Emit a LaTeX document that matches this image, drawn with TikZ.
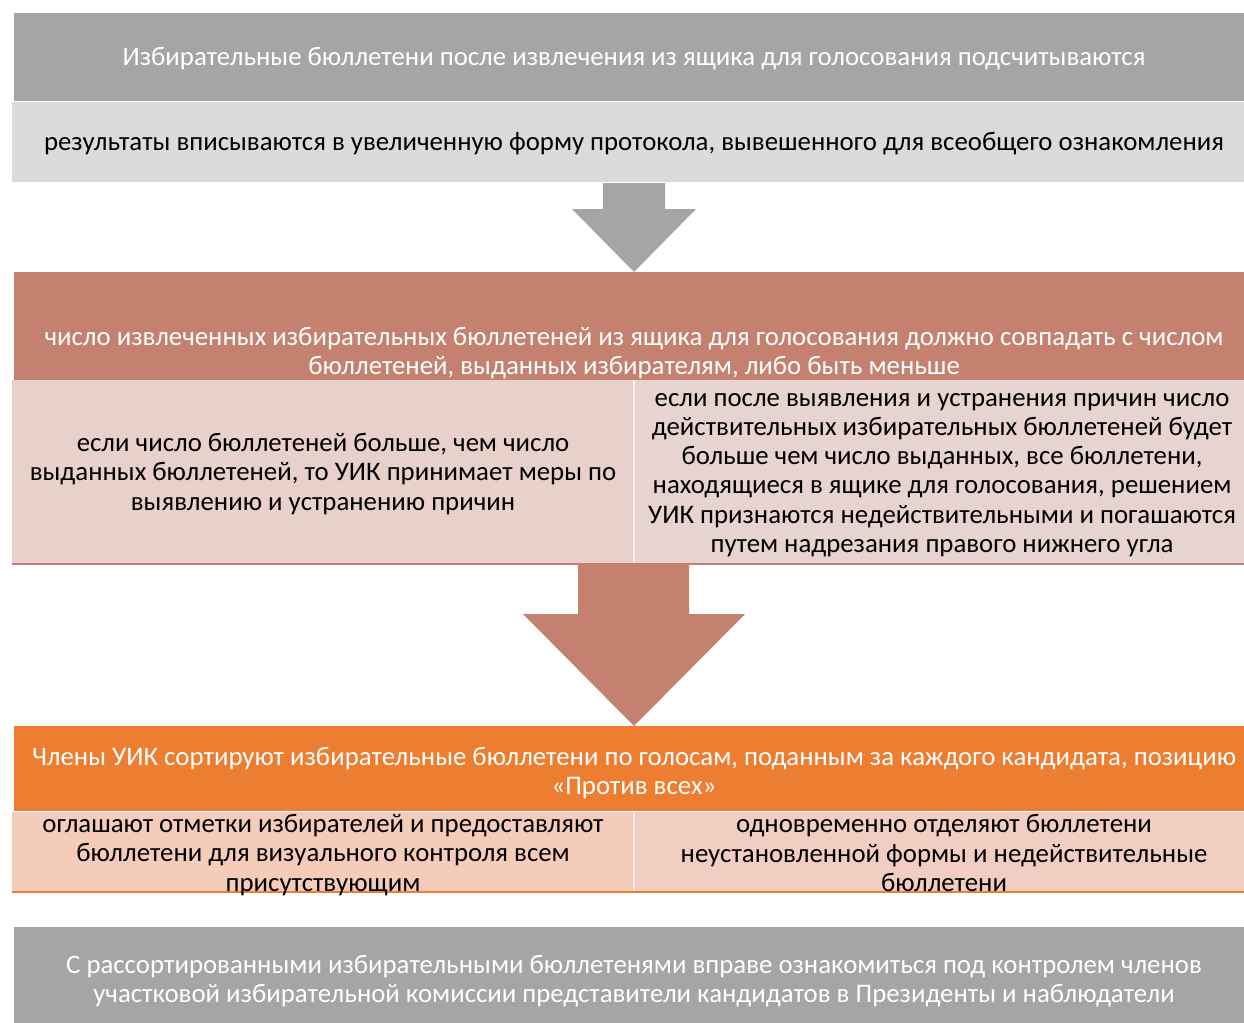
\documentclass[tikz,border=0pt]{standalone}
\usepackage{fontspec}
\setmainfont{Carlito}
\usetikzlibrary{calc}

\definecolor{greyBox}{HTML}{A5A5A5}
\definecolor{lightGrey}{HTML}{DBDBDB}
\definecolor{brownBox}{HTML}{C4816F}
\definecolor{pinkLeft}{HTML}{E8D0CB}
\definecolor{pinkRight}{HTML}{E7D3CF}
\definecolor{orangeBox}{HTML}{ED7D31}
\definecolor{peachLeft}{HTML}{F5CBB9}
\definecolor{peachRight}{HTML}{F2CDC2}

\begin{document}
\begin{tikzpicture}[x=0.5pt,y=-0.5pt,
  txt/.style={align=center,inner sep=0pt,font=\fontsize{13.4}{14.6}\selectfont},
  wtxt/.style={txt,text=white}]
\useasboundingbox (0,0) rectangle (1244,1023);

%STUFE 1 (grau)
\fill [greyBox] (14,13) rectangle (1244,101);
\node [wtxt] (zaehlen) at (634,59) {Избирательные бюллетени после извлечения из ящика для голосования подсчитываются};

\fill [lightGrey] (12,102) rectangle (1244,182);
\node [txt] (protokoll) at (634,144) {результаты вписываются в увеличенную форму протокола, вывешенного для всеобщего ознакомления};

%PFEIL 1
\fill [greyBox] (603,183) -- (665,183) -- (665,209) -- (696,209) -- (634,272) -- (572,209) -- (603,209) -- cycle;

%STUFE 2 (braun)
\fill [brownBox] (14,272) rectangle (1244,380);
\node [wtxt] (vergleich) at (634,353) {число извлеченных избирательных бюллетеней из ящика для голосования должно совпадать с числом\\ бюллетеней, выданных избирателям, либо быть меньше};

\fill [pinkLeft] (12,380) rectangle (634,564);
\fill [pinkRight] (634,380) rectangle (1244,564);
\draw [white!70!pinkLeft, line width=0.6pt] (634,380) -- (634,564);
\draw [brownBox, line width=0.8pt] (12,564) -- (1244,564);
\node [txt] (mehr) at (323,474) {если число бюллетеней больше, чем число\\ выданных бюллетеней, то УИК принимает меры по\\ выявлению и устранению причин};
\node [txt] (ungueltig) at (942,475) {если после выявления и устранения причин число\\ действительных избирательных бюллетеней будет\\ больше чем число выданных, все бюллетени,\\ находящиеся в ящике для голосования, решением\\ УИК признаются недействительными и погашаются\\ путем надрезания правого нижнего угла};

%PFEIL 2
\fill [brownBox] (578,565) -- (689,565) -- (689,614) -- (745,614) -- (634,726) -- (523,614) -- (578,614) -- cycle;

%STUFE 3 (orange)
\fill [orangeBox] (14,726) rectangle (1244,811);
\node [wtxt] (sortieren) at (634,773) {Члены УИК сортируют избирательные бюллетени по голосам, поданным за каждого кандидата, позицию\\ «Против всех»};

\fill [peachLeft] (12,812) rectangle (634,892);
\fill [peachRight] (634,812) rectangle (1244,892);
\draw [white!60!peachLeft, line width=0.6pt] (634,812) -- (634,892);
\draw [orangeBox, line width=0.8pt] (12,892) -- (1244,892);
\node [txt] (verkuenden) at (323,855) {оглашают отметки избирателей и предоставляют\\ бюллетени для визуального контроля всем\\ присутствующим};
\node [txt] (trennen) at (944,853) {одновременно отделяют бюллетени\\ неустановленной формы и недействительные\\ бюллетени};

%STUFE 4 (grau)
\fill [greyBox] (14,927) rectangle (1244,1023);
\node [wtxt] (einsicht) at (634,981) {С рассортированными избирательными бюллетенями вправе ознакомиться под контролем членов\\ участковой избирательной комиссии представители кандидатов в Президенты и наблюдатели};

\end{tikzpicture}
\end{document}
